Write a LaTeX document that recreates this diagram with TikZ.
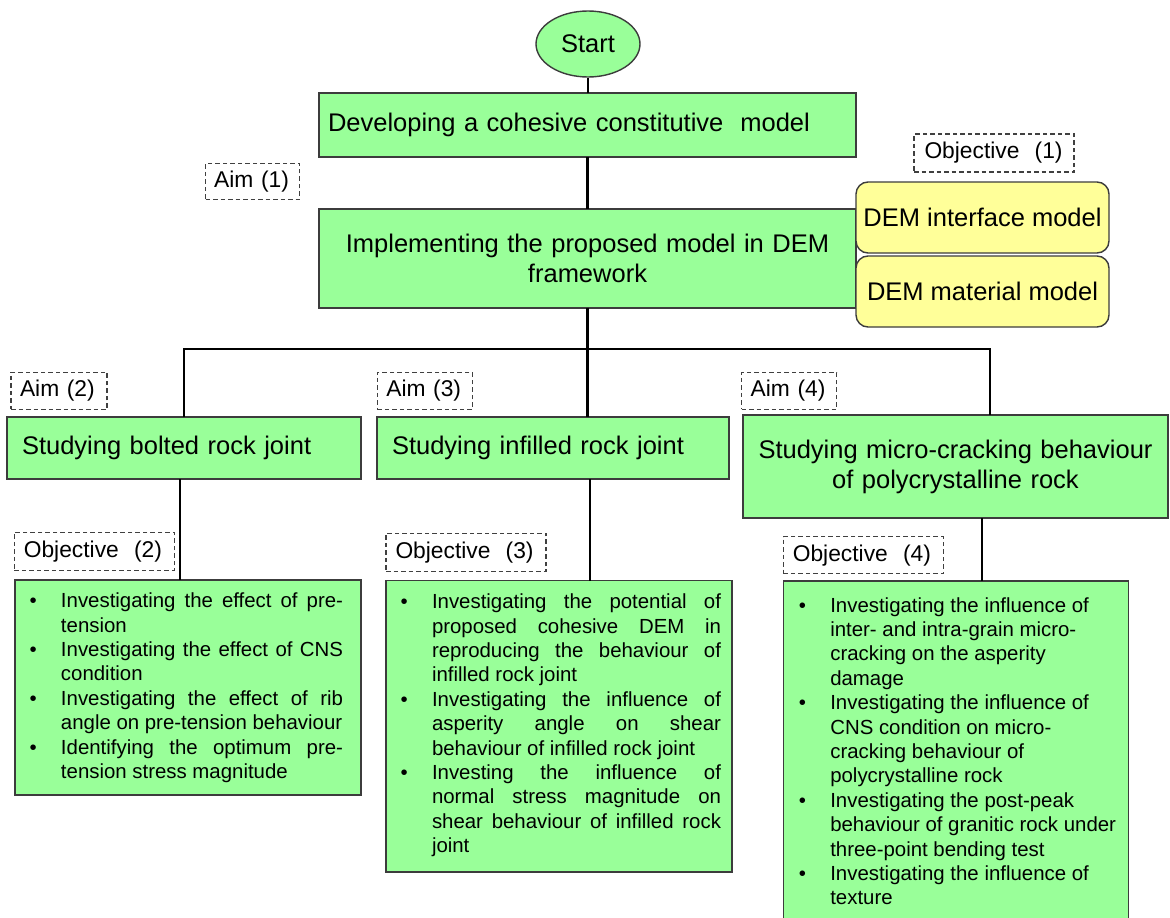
\documentclass[tikz,border=0pt]{standalone}
\usepackage{fontspec}
\setmainfont{Liberation Sans}
\usetikzlibrary{calc,shapes.geometric}
\definecolor{boxgreen}{RGB}{153,255,153}
\definecolor{boxyellow}{RGB}{255,255,153}
\definecolor{edgegray}{RGB}{60,60,60}
\newcommand\hdfont{\fontsize{25.5}{30}\selectfont}
\newcommand\lbfont{\fontsize{22.8}{27}\selectfont}
\newcommand\bdfont{\fontsize{20.4}{24.4}\selectfont}
\newlength\lpad
\newlength\jw
\newcommand\bj[1]{\hspace*{\lpad}\makebox[31.5pt][l]{\textbullet}\makebox[\jw][s]{#1}}
\newcommand\bl[1]{\hspace*{\lpad}\makebox[31.5pt][l]{\textbullet}#1}
\newcommand\cj[1]{\hspace*{\lpad}\hspace*{31.5pt}\makebox[\jw][s]{#1}}
\newcommand\cl[1]{\hspace*{\lpad}\hspace*{31.5pt}#1}
\tikzset{
  hbox/.style={draw=edgegray, fill=boxgreen, line width=1.4pt, anchor=north west, font=\hdfont, outer sep=0pt},
  ybox/.style={draw=edgegray, fill=boxyellow, line width=1.4pt, rounded corners=12pt, anchor=north west, font=\hdfont, inner sep=0pt, outer sep=0pt},
  objbox/.style={draw=edgegray, fill=boxgreen, line width=1.4pt, anchor=north west, inner sep=0pt, outer sep=0pt, font=\bdfont},
  lbl/.style={draw=black!75, dash pattern=on 4.5pt off 3pt, line width=1.2pt, anchor=north west, font=\lbfont, align=left, inner xsep=9pt, inner ysep=0pt, outer sep=0pt},
  conn/.style={draw=black, line width=2.1pt},
}
\begin{document}
\begin{tikzpicture}[x=1pt,y=-1pt]
\useasboundingbox (0,0) rectangle (1170,918);
\clip (0,0) rectangle (1170,918);

% start
\node[ellipse, draw=edgegray, fill=boxgreen, line width=1.4pt, minimum width=104pt, minimum height=66pt, inner sep=0pt, font=\hdfont] (start) at (588,44) {Start};

% top boxes
\node[hbox, minimum width=537pt, minimum height=64pt, text width=519pt, inner xsep=9pt, align=left] (dev) at (319,93) {Developing a cohesive constitutive\ \ model};
\node[hbox, minimum width=537pt, minimum height=99pt, text width=520pt, inner xsep=8.5pt, align=center] (impl) at (319,209) {Implementing the proposed model in DEM\\framework};

% yellow boxes
\node[ybox, minimum width=253pt, minimum height=71pt] (y1) at (856,182) {DEM interface model};
\node[ybox, minimum width=253pt, minimum height=71pt] (y2) at (856,256) {DEM material model};

% aim boxes
\node[hbox, minimum width=354pt, minimum height=62pt, text width=324pt, inner xsep=15pt, align=left] (b2) at (7,417) {Studying bolted rock joint};
\node[hbox, minimum width=352pt, minimum height=62pt, text width=322pt, inner xsep=15pt, align=left] (b3) at (377,417) {Studying infilled rock joint};
\node[hbox, minimum width=425pt, minimum height=103pt, text width=409pt, inner xsep=8pt, align=center] (b4) at (743,415) {Studying micro-cracking behaviour\\of polycrystalline rock};

% labels
\node[lbl, text width=77pt, minimum height=36pt, inner xsep=8.5pt] (aim1) at (205.7,163.3) {Aim (1)};
\node[lbl, text width=78pt, minimum height=37pt] (aim2) at (11,372.3) {Aim (2)};
\node[lbl, text width=77pt, minimum height=37pt] (aim3) at (377.3,372.3) {Aim (3)};
\node[lbl, text width=77pt, minimum height=37pt] (aim4) at (741.7,372.3) {Aim (4)};
\node[lbl, text width=139pt, minimum height=38pt, inner xsep=10.5pt] (obj1) at (914,134) {Objective\ \ (1)};
\node[lbl, text width=141pt, minimum height=38pt, inner xsep=9.5pt] (obj2) at (14.3,532.3) {Objective\ \ (2)};
\node[lbl, text width=141pt, minimum height=38pt, inner xsep=9.5pt] (obj3) at (386,533.3) {Objective\ \ (3)};
\node[lbl, text width=141pt, minimum height=37pt, inner xsep=9.5pt] (obj4) at (783.3,536.7) {Objective\ \ (4)};

% objective boxes
\node[objbox] (o2) at (15,580) {\setlength\lpad{14.5pt}\setlength\jw{282pt}%
\parbox[t][215pt][t]{346pt}{\rule{0pt}{27.6pt}%
\bj{Investigating the effect of pre-}\\
\cl{tension}\\
\bj{Investigating the effect of CNS}\\
\cl{condition}\\
\bj{Investigating the effect of rib}\\
\cl{angle on pre-tension behaviour}\\
\bj{Identifying the optimum pre-}\\
\cl{tension stress magnitude}}};

\node[objbox] (o3) at (386,580.5) {\setlength\lpad{14.5pt}\setlength\jw{289pt}%
\parbox[t][291.5pt][t]{346pt}{\rule{0pt}{28.1pt}%
\bj{Investigating the potential of}\\
\cj{proposed cohesive DEM in}\\
\cj{reproducing the behaviour of}\\
\cl{infilled rock joint}\\
\bj{Investigating the influence of}\\
\cj{asperity angle on shear}\\
\cl{behaviour of infilled rock joint}\\
\bj{Investing the influence of}\\
\cj{normal stress magnitude on}\\
\cj{shear behaviour of infilled rock}\\
\cl{joint}}};

\node[objbox] (o4) at (783.3,581) {\setlength\lpad{15.5pt}%
\parbox[t][350pt][t]{345pt}{\rule{0pt}{31pt}%
\bl{Investigating the influence of}\\
\cl{inter- and intra-grain micro-}\\
\cl{cracking on the asperity}\\
\cl{damage}\\
\bl{Investigating the influence of}\\
\cl{CNS condition on micro-}\\
\cl{cracking behaviour of}\\
\cl{polycrystalline rock}\\
\bl{Investigating the post-peak}\\
\cl{behaviour of granitic rock under}\\
\cl{three-point bending test}\\
\bl{Investigating the influence of}\\
\cl{texture}}};

% connectors
\draw[conn] (start.south) -- (dev.north -| start.south);
\draw[conn] (dev.south) -- (impl.north);
\draw[conn] (impl.south) -- ++(0,41) coordinate (bus);
\coordinate (b4drop) at ([xshift=34.5pt]b4.north);
\draw[conn] (b2.north) -- (b2.north |- bus) -- (bus -| b4drop) -- (b4drop);
\draw[conn] (bus) -- (bus |- b3.north);
\draw[conn] ([xshift=-4pt]b2.south) -- ([xshift=-4pt]b2.south |- o2.north);
\draw[conn] ([xshift=37pt]b3.south) -- ([xshift=37pt]b3.south |- o3.north);
\draw[conn] ([xshift=26.5pt]b4.south) -- ([xshift=26.5pt]b4.south |- o4.north);
\end{tikzpicture}
\end{document}
